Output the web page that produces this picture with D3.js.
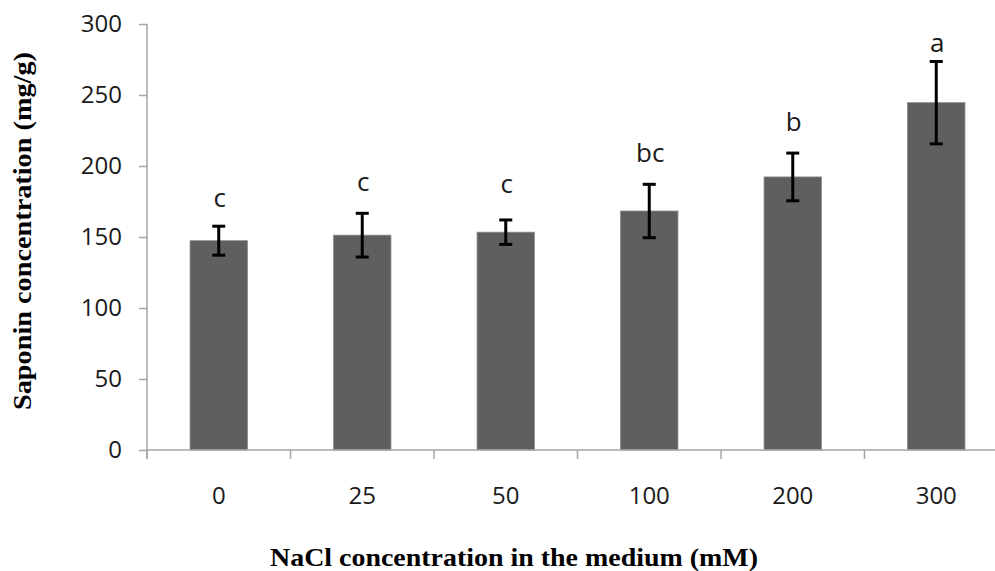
<!DOCTYPE html>
<html>
<head>
<meta charset="utf-8">
<script src="https://cdn.jsdelivr.net/npm/d3@7/dist/d3.min.js"></script>
<style>
  html, body { margin: 0; padding: 0; background: #fff; }
  svg { display: block; }
</style>
</head>
<body>
<svg id="chart" width="995" height="571"></svg>
<script>
// ---- data ----
const categories = ["0", "25", "50", "100", "200", "300"];
const saponin = [147.4, 151.3, 153.4, 168.3, 192.3, 244.6];
const errors = [10.2, 15.4, 8.6, 18.8, 16.8, 29.0];
const letters = ["c", "c", "c", "bc", "b", "a"];
const letterAt = [171.3, 182.7, 181.0, 202.5, 225.0, 280.5];
const yTicks = [0, 50, 100, 150, 200, 250, 300];

const xTitle = "NaCl concentration in the medium (mM)";
const yTitle = "Saponin concentration (mg/g)";

(function () {
// ---- layout ----
const svg = d3.select("#chart");
const mLeft = 147, mTop = 24, mBottom = 450, mRight = 1008;
const axisColor = "#a6a6a6";

const x = d3.scaleBand().domain(categories).range([mLeft, mRight])
  .paddingInner(0.6).paddingOuter(0.3);
const y = d3.scaleLinear().domain([0, 300]).range([mBottom, mTop]);

// y axis
const yAxis = svg.append("g").attr("transform", `translate(${mLeft},0)`)
  .call(d3.axisLeft(y).tickValues(yTicks).tickSize(8).tickPadding(17).tickFormat(d3.format("d")));
yAxis.select(".domain").attr("stroke", axisColor).attr("stroke-width", 1.5)
  .attr("d", `M0,${mTop}V${mBottom + 9}`);
yAxis.selectAll(".tick line").attr("stroke", axisColor).attr("stroke-width", 1.5);
yAxis.selectAll(".tick text").attr("fill", "#1a1a1a")
  .style("font-family", "'Open Sans', sans-serif").style("font-size", "24px");

// bars
svg.append("g").selectAll("rect").data(categories).join("rect")
  .attr("x", d => x(d))
  .attr("y", (d, i) => y(saponin[i]))
  .attr("width", x.bandwidth())
  .attr("height", (d, i) => y(0) - y(saponin[i]))
  .attr("fill", "#5f5f5f")
  .attr("stroke", "#8a8a8a").attr("stroke-width", 0.8);

// x axis
const step = x.step();
const xg = svg.append("g");
xg.append("line").attr("x1", mLeft).attr("x2", 995).attr("y1", mBottom).attr("y2", mBottom)
  .attr("stroke", axisColor).attr("stroke-width", 1.5);
xg.selectAll("line.tk").data(categories).join("line").attr("class", "tk")
  .attr("x1", (d) => x(d) - x.paddingOuter() * step)
  .attr("x2", (d) => x(d) - x.paddingOuter() * step)
  .attr("y1", mBottom).attr("y2", mBottom + 9)
  .attr("stroke", axisColor).attr("stroke-width", 1.5);
xg.selectAll("text").data(categories).join("text")
  .attr("x", d => x(d) + x.bandwidth() / 2)
  .attr("y", 504)
  .attr("text-anchor", "middle")
  .attr("fill", "#1a1a1a")
  .style("font-family", "'Open Sans', sans-serif").style("font-size", "24px")
  .text(d => d);

// error bars
const cx = d => x(d) + x.bandwidth() / 2;
const eg = svg.append("g").attr("stroke", "#000").attr("stroke-width", 3);
categories.forEach((c, i) => {
  const hi = y(saponin[i] + errors[i]), lo = y(saponin[i] - errors[i]);
  eg.append("line").attr("x1", cx(c)).attr("x2", cx(c)).attr("y1", hi).attr("y2", lo);
  eg.append("line").attr("x1", cx(c) - 6.5).attr("x2", cx(c) + 6.5).attr("y1", hi).attr("y2", hi);
  eg.append("line").attr("x1", cx(c) - 6.5).attr("x2", cx(c) + 6.5).attr("y1", lo).attr("y2", lo);
});

// significance letters
svg.append("g").selectAll("text").data(categories).join("text")
  .attr("x", d => cx(d) + 1)
  .attr("y", (d, i) => y(letterAt[i]))
  .attr("text-anchor", "middle")
  .attr("fill", "#1a1a1a")
  .style("font-family", "'Open Sans', sans-serif").style("font-size", "26px")
  .text((d, i) => letters[i]);

// axis titles
svg.append("text")
  .attr("x", 514).attr("y", 565.5)
  .attr("text-anchor", "middle")
  .attr("textLength", 488).attr("lengthAdjust", "spacingAndGlyphs")
  .style("font-family", "'Liberation Serif', 'Times New Roman', serif")
  .style("font-weight", "bold").style("font-size", "26px")
  .attr("fill", "#000")
  .text(xTitle);

svg.append("text")
  .attr("transform", "translate(31,231) rotate(-90)")
  .attr("text-anchor", "middle")
  .attr("textLength", 358).attr("lengthAdjust", "spacingAndGlyphs")
  .style("font-family", "'Liberation Serif', 'Times New Roman', serif")
  .style("font-weight", "bold").style("font-size", "26px")
  .attr("fill", "#000")
  .text(yTitle);
})();
</script>
</body>
</html>
